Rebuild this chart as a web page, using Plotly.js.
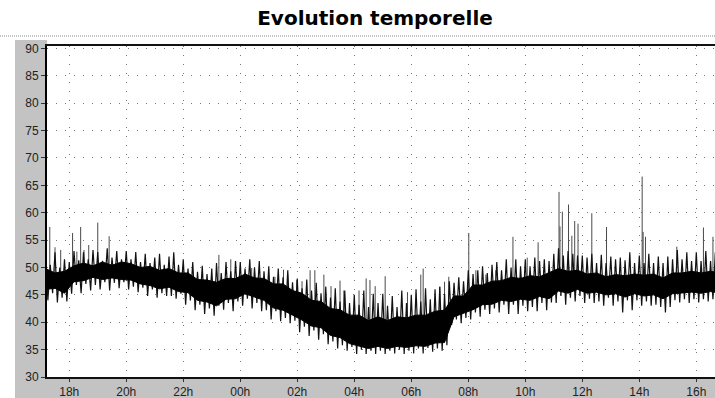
<!DOCTYPE html>
<html>
<head>
<meta charset="utf-8">
<script src="https://cdn.plot.ly/plotly-3.0.1.min.js"></script>
<style>html,body{margin:0;padding:0;background:#fff;}#chart{width:715px;height:398px;}</style>
</head>
<body>
<div id="chart"></div>
<script>
// ---- Dense core of the signal: 20-minute samples from 17:10 to 16:50 next day ----
const coreStart = '2024-01-01 17:10:00';
const coreStepMinutes = 20;
const coreHigh = [
  /*17*/ 49.8, 49, 49.3,
  /*18*/ 50.3, 50.8, 50.3,
  /*19*/ 51, 50.4, 51,
  /*20*/ 50.7, 50, 50.2,
  /*21*/ 49.5, 49.8, 49,
  /*22*/ 49, 47.8, 47.7,
  /*23*/ 47.3, 48, 48,
  /*00*/ 48.8, 48.1, 48,
  /*01*/ 47, 47, 45.8,
  /*02*/ 45.3, 44, 43.8,
  /*03*/ 42.5, 42.3, 41.3,
  /*04*/ 41.3, 40.3, 41,
  /*05*/ 40.3, 41, 40.8,
  /*06*/ 41.3, 41.3, 42,
  /*07*/ 42.2, 44.8, 44.8,
  /*08*/ 46.8, 46.8, 47.5,
  /*09*/ 47.6, 48.2, 48,
  /*10*/ 48.5, 48.3, 49,
  /*11*/ 49.8, 49.3, 49.5,
  /*12*/ 48.8, 49, 48.3,
  /*13*/ 48.7, 48.5, 48.8,
  /*14*/ 48.6, 48.8, 48.1,
  /*15*/ 49, 49, 49.3,
  /*16*/ 49, 49.3, 49
];
const coreLow = [
  /*17*/ 46, 46.2, 45.3,
  /*18*/ 47.4, 47.6, 48.2,
  /*19*/ 47.8, 48.1, 47.8,
  /*20*/ 47.7, 47, 46.7,
  /*21*/ 46.1, 46.4, 45.6,
  /*22*/ 45.4, 44, 43.7,
  /*23*/ 43, 44.2, 44.3,
  /*00*/ 45.2, 44.6, 44,
  /*01*/ 42.6, 42.2, 41.3,
  /*02*/ 40.4, 39.3, 39,
  /*03*/ 37.6, 37.2, 36.1,
  /*04*/ 35.7, 35.2, 35.6,
  /*05*/ 35.2, 35.6, 35.4,
  /*06*/ 35.7, 35.6, 36.2,
  /*07*/ 36.3, 41, 41.7,
  /*08*/ 42.3, 43.2, 43.3,
  /*09*/ 44, 43.8, 44.2,
  /*10*/ 44, 44.7, 44.3,
  /*11*/ 45.7, 45.3, 46,
  /*12*/ 45.3, 45.5, 45,
  /*13*/ 45.2, 44.6, 45.2,
  /*14*/ 44.8, 45, 44.3,
  /*15*/ 45.2, 45.3, 45.5,
  /*16*/ 45.3, 45.6, 45.3
];

// ---- Noise extremes around the core: 10-minute samples from 17:10 to 16:50 ----
const noiseStart = '2024-01-01 17:10:00';
const noiseStepMinutes = 10;
const noiseHigh = [
  /*17*/ 52.5, 50.5, 52.8, 50, 51.5,
  /*18*/ 51, 53, 51.3, 52.8, 51.5, 53.2,
  /*19*/ 52.8, 51.2, 53.5, 51.8, 53, 51.5,
  /*20*/ 53, 51.5, 52.8, 51, 52.5, 50.8,
  /*21*/ 51.8, 52.5, 50.5, 52, 52.8, 50.5,
  /*22*/ 51.5, 49.8, 51, 49.2, 50.3, 48.8,
  /*23*/ 49.8, 50.8, 49, 51, 49.3, 51.2,
  /*00*/ 51, 49.8, 51.5, 50, 51.2, 49.3,
  /*01*/ 50.2, 48.3, 49.8, 48.2, 49.5, 47.3,
  /*02*/ 48, 46.2, 47.8, 45.8, 47.2, 45.3,
  /*03*/ 46.5, 44.5, 46.2, 43.8, 45.8, 43.5,
  /*04*/ 45, 43.2, 45.8, 42.8, 45.2, 43.5,
  /*05*/ 45.2, 43, 44.8, 42.8, 45.8, 43.5,
  /*06*/ 45, 46, 43.8, 46.2, 44.2, 46,
  /*07*/ 46.5, 45.2, 47.5, 47.2, 48.2, 47.5,
  /*08*/ 49.5, 48.8, 49.5, 50.2, 49, 50.5,
  /*09*/ 51, 49.5, 51.5, 50, 51.5, 50.2,
  /*10*/ 51.5, 50.2, 51.8, 51.2, 51.5, 51.2,
  /*11*/ 52.5, 53.5, 52.2, 53, 52.5, 52.2,
  /*12*/ 52.2, 51.8, 52.5, 50.8, 52.3, 50.8,
  /*13*/ 52, 51.5, 51.8, 51.3, 52.8, 50.8,
  /*14*/ 52.2, 50.8, 52.5, 50.8, 52, 50.8,
  /*15*/ 52, 51.5, 53.2, 51.5, 52.8, 51.2,
  /*16*/ 52.8, 51.2, 53, 51.2, 52.8, 51.3
];
// read 5 minutes after each noiseHigh sample
const noiseLow = [
  /*17*/ 44, 45.3, 43.6, 44.5, 43.8,
  /*18*/ 45.2, 46.8, 45.3, 47, 45.8, 46.8,
  /*19*/ 46, 47.3, 45.8, 47.2, 46.2, 47.3,
  /*20*/ 46, 46.5, 45.5, 46.3, 44.8, 46,
  /*21*/ 44.5, 45.3, 44.8, 44.8, 44.3, 45.2,
  /*22*/ 43.2, 44, 42.2, 43.2, 41.5, 42.5,
  /*23*/ 41.2, 43, 42.3, 43.5, 42, 43.8,
  /*00*/ 43, 44.3, 42.5, 43.5, 42, 42.2,
  /*01*/ 40.5, 42, 40.2, 40.8, 39.8, 40.3,
  /*02*/ 38.2, 39.2, 37.5, 38.5, 36.8, 37.8,
  /*03*/ 36, 36.5, 35.2, 35.8, 34.8, 35.5,
  /*04*/ 34.2, 35, 34.2, 34.8, 34.2, 34.8,
  /*05*/ 34.2, 34.8, 34.3, 35, 34.2, 34.8,
  /*06*/ 34.3, 35.2, 34.3, 35.3, 34.6, 35.2,
  /*07*/ 34.8, 35.8, 39.5, 40.5, 39.8, 40.8,
  /*08*/ 40.5, 41.8, 41, 42.3, 41.5, 42.5,
  /*09*/ 41.8, 43.2, 41.5, 43.2, 41.5, 43,
  /*10*/ 42, 42.8, 42, 43.5, 42.2, 43.6,
  /*11*/ 43.5, 44.8, 43.2, 44.5, 43.8, 44.8,
  /*12*/ 43.5, 44.3, 43.5, 43.8, 43, 44.5,
  /*13*/ 43, 43.8, 41.8, 44, 42.2, 44,
  /*14*/ 43, 43.8, 43, 43.2, 42.8, 41.8,
  /*15*/ 42.8, 44, 43.6, 44.2, 43.5, 44.2,
  /*16*/ 43.6, 44.2, 43.8, 44.2, 43.5, 44.2
];

// ---- Isolated spikes: time, peak value, value at the foot ----
const spikeTimes = [
  '2024-01-01 17:19','2024-01-01 17:30','2024-01-01 17:42','2024-01-01 18:07','2024-01-01 18:16',
  '2024-01-01 18:24','2024-01-01 18:31','2024-01-01 18:41','2024-01-01 19:00','2024-01-01 19:24',
  '2024-01-01 23:15','2024-01-01 23:40','2024-01-02 00:24','2024-01-02 01:13','2024-01-02 01:31',
  '2024-01-02 01:40','2024-01-02 01:59','2024-01-02 02:10','2024-01-02 02:27','2024-01-02 02:37',
  '2024-01-02 02:56','2024-01-02 03:11','2024-01-02 03:30','2024-01-02 03:38','2024-01-02 04:10',
  '2024-01-02 04:25','2024-01-02 04:33','2024-01-02 04:44','2024-01-02 05:05','2024-01-02 05:52',
  '2024-01-02 06:20','2024-01-02 06:25','2024-01-02 07:00','2024-01-02 07:10','2024-01-02 07:19',
  '2024-01-02 08:01','2024-01-02 08:16','2024-01-02 08:37','2024-01-02 08:58','2024-01-02 09:34',
  '2024-01-02 10:04','2024-01-02 10:27','2024-01-02 11:11','2024-01-02 11:13','2024-01-02 11:18',
  '2024-01-02 11:31','2024-01-02 11:38','2024-01-02 11:44','2024-01-02 11:51','2024-01-02 12:20',
  '2024-01-02 12:51','2024-01-02 14:06','2024-01-02 14:08','2024-01-02 14:13','2024-01-02 15:19',
  '2024-01-02 16:15','2024-01-02 16:35'
];
const spikePeaks = [
  57.4, 53.7, 53.2, 56.3, 52.9,
  57.4, 53.2, 54.1, 58.2, 55.7,
  52.3, 51.5, 49.9, 48.3, 49.6,
  48.7, 47.7, 47.5, 49.5, 49.5,
  48.7, 46.6, 47.6, 45.8, 45.8,
  48.0, 47.7, 46.6, 48.4, 45.5,
  48.7, 49.8, 46.5, 47.4, 48.3,
  56.3, 49.5, 48.7, 49.5, 55.6,
  51.8, 54.6, 63.8, 57.5, 60.2,
  61.5, 55.8, 58.5, 58.0, 59.9,
  57.4, 66.6, 56.5, 55.6, 53.8,
  57.3, 55.6
];
const spikeFeet = [
  49, 49, 48, 49, 49,
  50, 50, 50, 50, 50,
  47, 47, 47, 44, 45,
  44, 43, 43, 43, 43,
  42, 41, 41, 40, 40,
  40, 40, 40, 40, 40,
  40, 40, 42, 42, 42,
  46, 46, 46, 46, 47,
  47, 47, 49, 49, 49,
  49, 49, 49, 49, 49,
  48, 48, 48, 48, 48,
  48, 48
];

// ---- Axes / text ----
const xRange = ['2024-01-01 17:13:10', '2024-01-02 16:39:20'];
const yRange = [30, 90.45];
const yTicks = [30, 35, 40, 45, 50, 55, 60, 65, 70, 75, 80, 85, 90];
const titleText = 'Evolution temporelle';

function ms(s){ return new Date(s.replace(' ', 'T') + 'Z').getTime(); }

// core (filled band)
const c0 = ms(coreStart), cStep = coreStepMinutes * 60000;
const cx = coreHigh.map((_, i) => c0 + i * cStep);

// noise extremes: high value at each sample, low value half a step later
const n0 = ms(noiseStart), nStep = noiseStepMinutes * 60000;
const nx = [], ny = [];
for (let i = 0; i < noiseHigh.length; i++) {
  nx.push(n0 + i * nStep);             ny.push(noiseHigh[i]);
  nx.push(n0 + i * nStep + nStep / 2); ny.push(noiseLow[i]);
}

const px = [], py = [];
for (let i = 0; i < spikeTimes.length; i++) {
  px.push(spikeTimes[i], spikeTimes[i], null);
  py.push(spikeFeet[i], spikePeaks[i], null);
}

const traces = [
  {x: px, y: py, type: 'scatter', mode: 'lines', line: {color: '#4a4a4a', width: 1}, hoverinfo: 'skip'},
  {x: nx, y: ny, type: 'scatter', mode: 'lines', line: {color: '#111', width: 1.2}, hoverinfo: 'skip'},
  {x: cx, y: coreLow, type: 'scatter', mode: 'lines', line: {color: '#000', width: 1}, hoverinfo: 'skip'},
  {x: cx, y: coreHigh, type: 'scatter', mode: 'lines', fill: 'tonexty', fillcolor: '#000', line: {color: '#000', width: 1}, hoverinfo: 'skip'}
];

// pixel helpers for decoration placement (plot area 47..715 x 46..376.7)
const L = 47, W = 668, B = 376.7, H = 330.7;
const pxX = v => (v - L) / W;
const pxY = v => (B - v) / H;

const layout = {
  width: 715, height: 398,
  margin: {l: 47, r: 0, t: 46, b: 21.3, pad: 0},
  paper_bgcolor: '#fff', plot_bgcolor: '#fff',
  showlegend: false,
  title: {text: titleText, font: {family: 'DejaVu Sans', size: 20, color: '#000', weight: 'bold'},
          x: 375/715, xref: 'container', xanchor: 'center', y: 1 - 18/398, yref: 'container', yanchor: 'middle'},
  xaxis: {type: 'date', range: xRange, tick0: '2024-01-01 18:00', dtick: 7200000, tickformat: '%Hh',
          showgrid: true, gridcolor: '#7a7a7a', gridwidth: 1, griddash: '1px,8px',
          ticks: 'outside', ticklen: 3, tickcolor: '#333', showline: true, linecolor: '#111', linewidth: 2, mirror: true,
          tickfont: {family: 'Liberation Sans', size: 12, color: '#222'}, zeroline: false, fixedrange: true},
  yaxis: {range: yRange, tickmode: 'array', tickvals: yTicks,
          showgrid: true, gridcolor: '#7a7a7a', gridwidth: 1, griddash: '1px,8px',
          ticks: 'outside', ticklen: 4, tickcolor: '#333', showline: true, linecolor: '#000', linewidth: 2,
          tickfont: {family: 'Liberation Sans', size: 12, color: '#222'}, zeroline: false, fixedrange: true},
  shapes: [
    {type: 'rect', xref: 'paper', yref: 'paper', x0: pxX(15), x1: 0, y0: pxY(398), y1: pxY(40), fillcolor: '#c3c3c3', line: {width: 0}, layer: 'below'},
    {type: 'rect', xref: 'paper', yref: 'paper', x0: pxX(15), x1: 1, y0: pxY(398), y1: 0, fillcolor: '#c3c3c3', line: {width: 0}, layer: 'below'},
    {type: 'line', xref: 'paper', yref: 'paper', x0: pxX(0), x1: 1, y0: pxY(36), y1: pxY(36), line: {color: '#888', width: 1, dash: '1px,1px'}}
  ]
};

Plotly.newPlot('chart', traces, layout, {displayModeBar: false, staticPlot: true});
</script>
</body>
</html>
